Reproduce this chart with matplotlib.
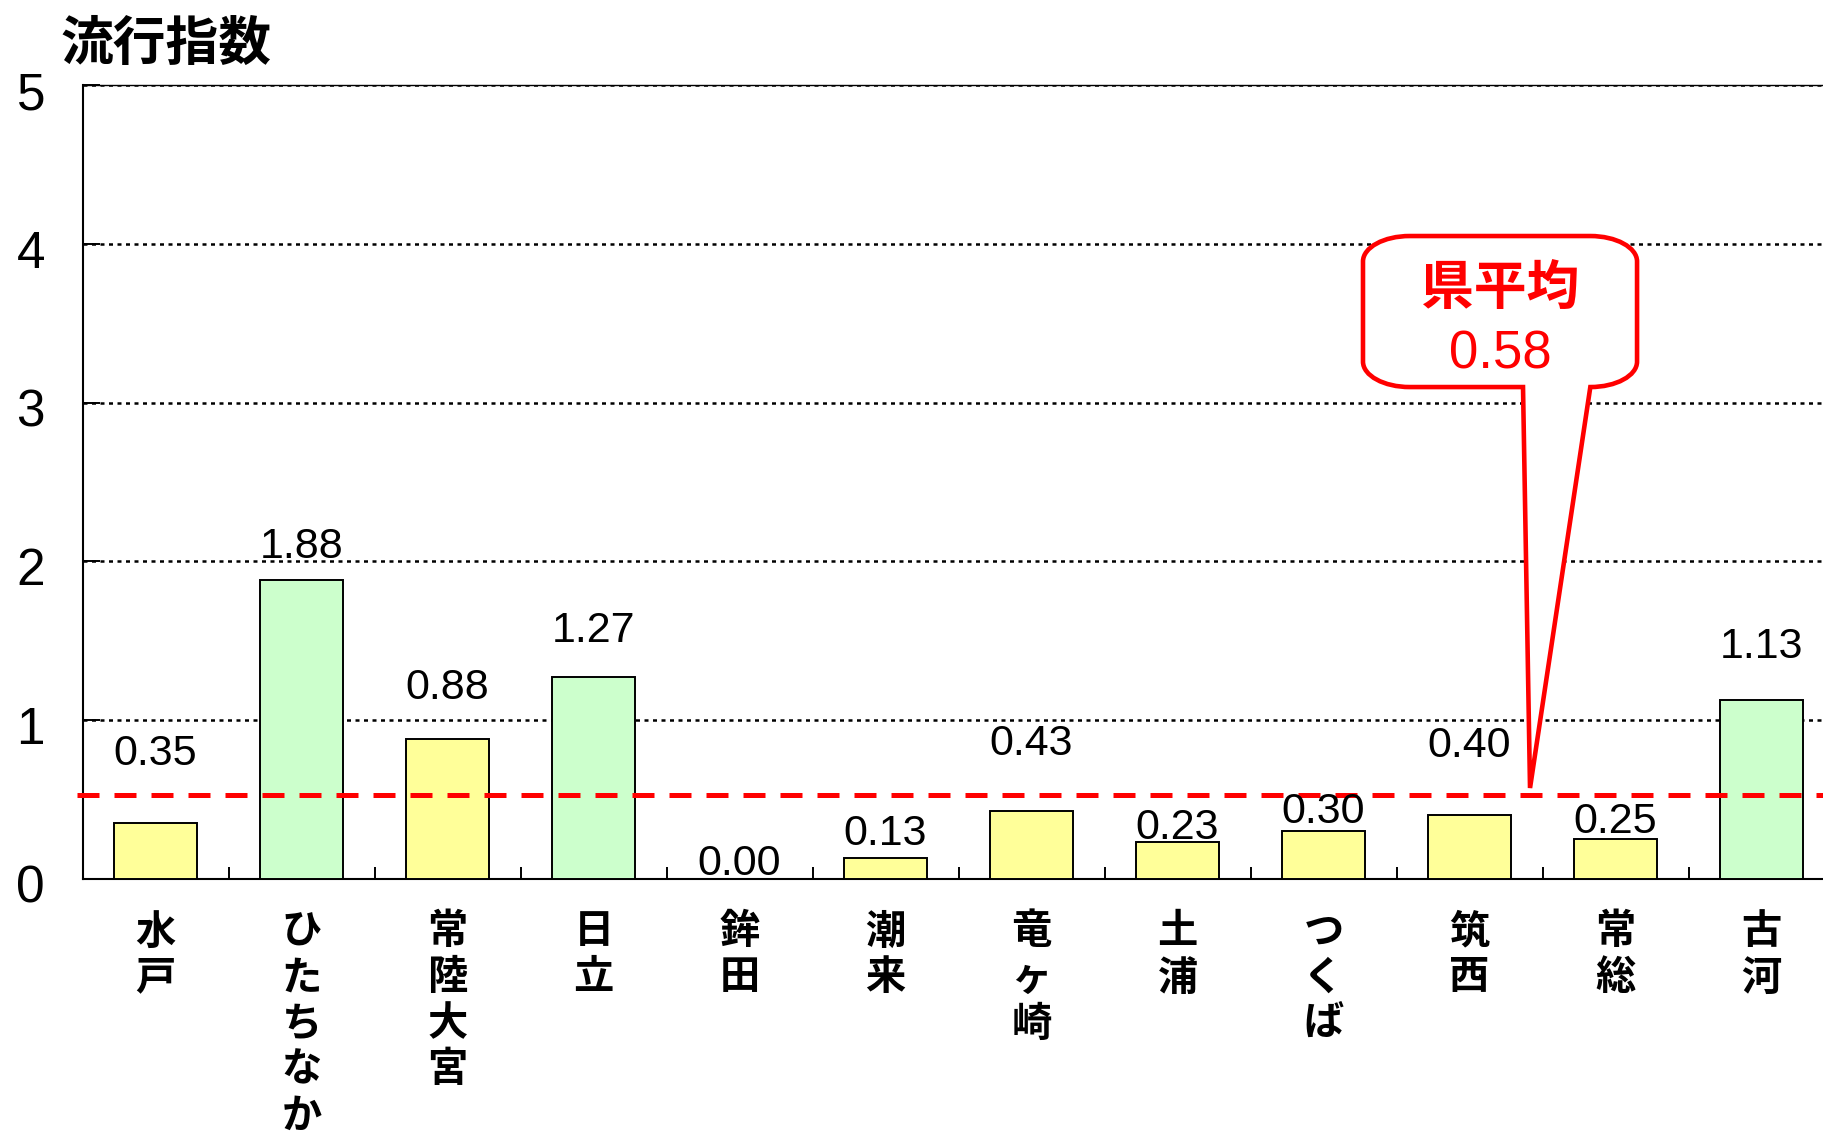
import numpy as np
import matplotlib
matplotlib.use("Agg")
import matplotlib.pyplot as plt
import matplotlib.transforms as mtransforms
from matplotlib.path import Path
from matplotlib.patches import PathPatch

plt.rcParams['font.family'] = ['Liberation Sans', 'Noto Sans CJK JP', 'DejaVu Sans']
CJK = ['Noto Sans CJK JP', 'DejaVu Sans']

# data
cities = ["水戸", "ひたちなか", "常陸大宮", "日立", "鉾田", "潮来",
          "竜ヶ崎", "土浦", "つくば", "筑西", "常総", "古河"]
index_values = [0.35, 1.88, 0.88, 1.27, 0.00, 0.13, 0.43, 0.23, 0.30, 0.40, 0.25, 1.13]
pref_avg = 0.58
avg_line_level = 0.53      # where the dashed line is drawn in the picture
y_ticks = [0, 1, 2, 3, 4, 5]

# hand-placed label heights above each bar (data units)
label_lift = [0.44, 0.21, 0.32, 0.29, 0.095, 0.155, 0.42, 0.09, 0.125, 0.435, 0.11, 0.33]

YELLOW = '#FFFF99'
GREEN = '#CCFFCC'
colors = [GREEN if v >= 1.0 else YELLOW for v in index_values]

fig = plt.figure(figsize=(18.23, 11.32), dpi=100)
ax = fig.add_axes([0.04526, 0.2235, 0.9611, 0.7014])

x = np.arange(len(cities))
ax.bar(x, index_values, width=0.57, color=colors, edgecolor='black',
       linewidth=1.4, zorder=3)

ax.set_xlim(-0.5, len(cities) - 0.5)
ax.set_ylim(0, 5)
ax.set_axisbelow(True)
ax.yaxis.grid(True, linestyle=(0, (1.6, 1.8)), color='black', linewidth=1.8)

# y axis
ax.set_yticks(y_ticks)
ax.tick_params(axis='y', direction='in', length=12, width=1.4, pad=27, labelsize=37)
offset = mtransforms.ScaledTranslation(0, -0.05, fig.dpi_scale_trans)
for lab in ax.get_yticklabels():
    lab.set_transform(lab.get_transform() + offset)

# x axis: only small inward ticks between categories
ax.set_xticks([])
ax.set_xticks(x[:-1] + 0.5, minor=True)
ax.tick_params(axis='x', which='minor', direction='in', length=9, width=1.4)
ax.tick_params(axis='x', which='major', length=0)

for side in ['left', 'bottom']:
    ax.spines[side].set_linewidth(1.5)
ax.spines['top'].set_linewidth(1.0)
ax.spines['right'].set_visible(False)

# vertical category labels, one character per line
for i, name in enumerate(cities):
    for j, ch in enumerate(name):
        ax.annotate(ch, xy=(i, 0), xycoords=('data', 'axes fraction'),
                    xytext=(0, -(53 + 46 * j) * 0.72), textcoords='offset points',
                    ha='center', va='center', fontsize=29, fontweight='bold',
                    family=CJK)

# value labels
for i, v in enumerate(index_values):
    ax.text(i, v + label_lift[i], f"{v:.2f}", ha='center', va='center',
            fontsize=31, zorder=6)

# prefecture average line
ax.axhline(avg_line_level, xmin=-0.003, xmax=1, color='red', linewidth=3.6,
           linestyle=(0, (4.4, 3)), clip_on=False, zorder=4)

# speech-bubble callout
L, R, T, B = 8.27, 10.147, 4.049, 3.098
rx, ry = 0.32, 0.16
k = 0.5523
pl, pr = 9.366, 9.825
tip = (9.414, 0.573)
verts = [
    (L + rx, T), (R - rx, T),
    (R - rx + k * rx, T), (R, T - ry + k * ry), (R, T - ry),
    (R, B + ry),
    (R, B + ry - k * ry), (R - rx + k * rx, B), (R - rx, B),
    tip, (pl, B), (L + rx, B),
    (L + rx - k * rx, B), (L, B + ry - k * ry), (L, B + ry),
    (L, T - ry),
    (L, T - ry + k * ry), (L + rx - k * rx, T), (L + rx, T),
    (L + rx, T),
]
codes = [Path.MOVETO, Path.LINETO,
         Path.CURVE4, Path.CURVE4, Path.CURVE4,
         Path.LINETO,
         Path.CURVE4, Path.CURVE4, Path.CURVE4,
         Path.LINETO, Path.LINETO, Path.LINETO,
         Path.CURVE4, Path.CURVE4, Path.CURVE4,
         Path.LINETO,
         Path.CURVE4, Path.CURVE4, Path.CURVE4,
         Path.CLOSEPOLY]
bubble = PathPatch(Path(verts, codes), facecolor='white', edgecolor='red',
                   linewidth=3.3, zorder=5, clip_on=False, joinstyle='miter')
ax.add_patch(bubble)
ax.text(9.21, 3.715, "県平均", color='red', fontsize=38, fontweight='bold',
        family=CJK, ha='center', va='center', zorder=6)
ax.text(9.21, 3.306, f"{pref_avg:.2f}", color='red', fontsize=38,
        ha='center', va='center', zorder=6)

fig.text(60 / 1823, 1 - 44 / 1132, "流行指数", fontsize=38, fontweight='bold',
         family=CJK, ha='left', va='center')

fig.savefig("out.png", dpi=100)
